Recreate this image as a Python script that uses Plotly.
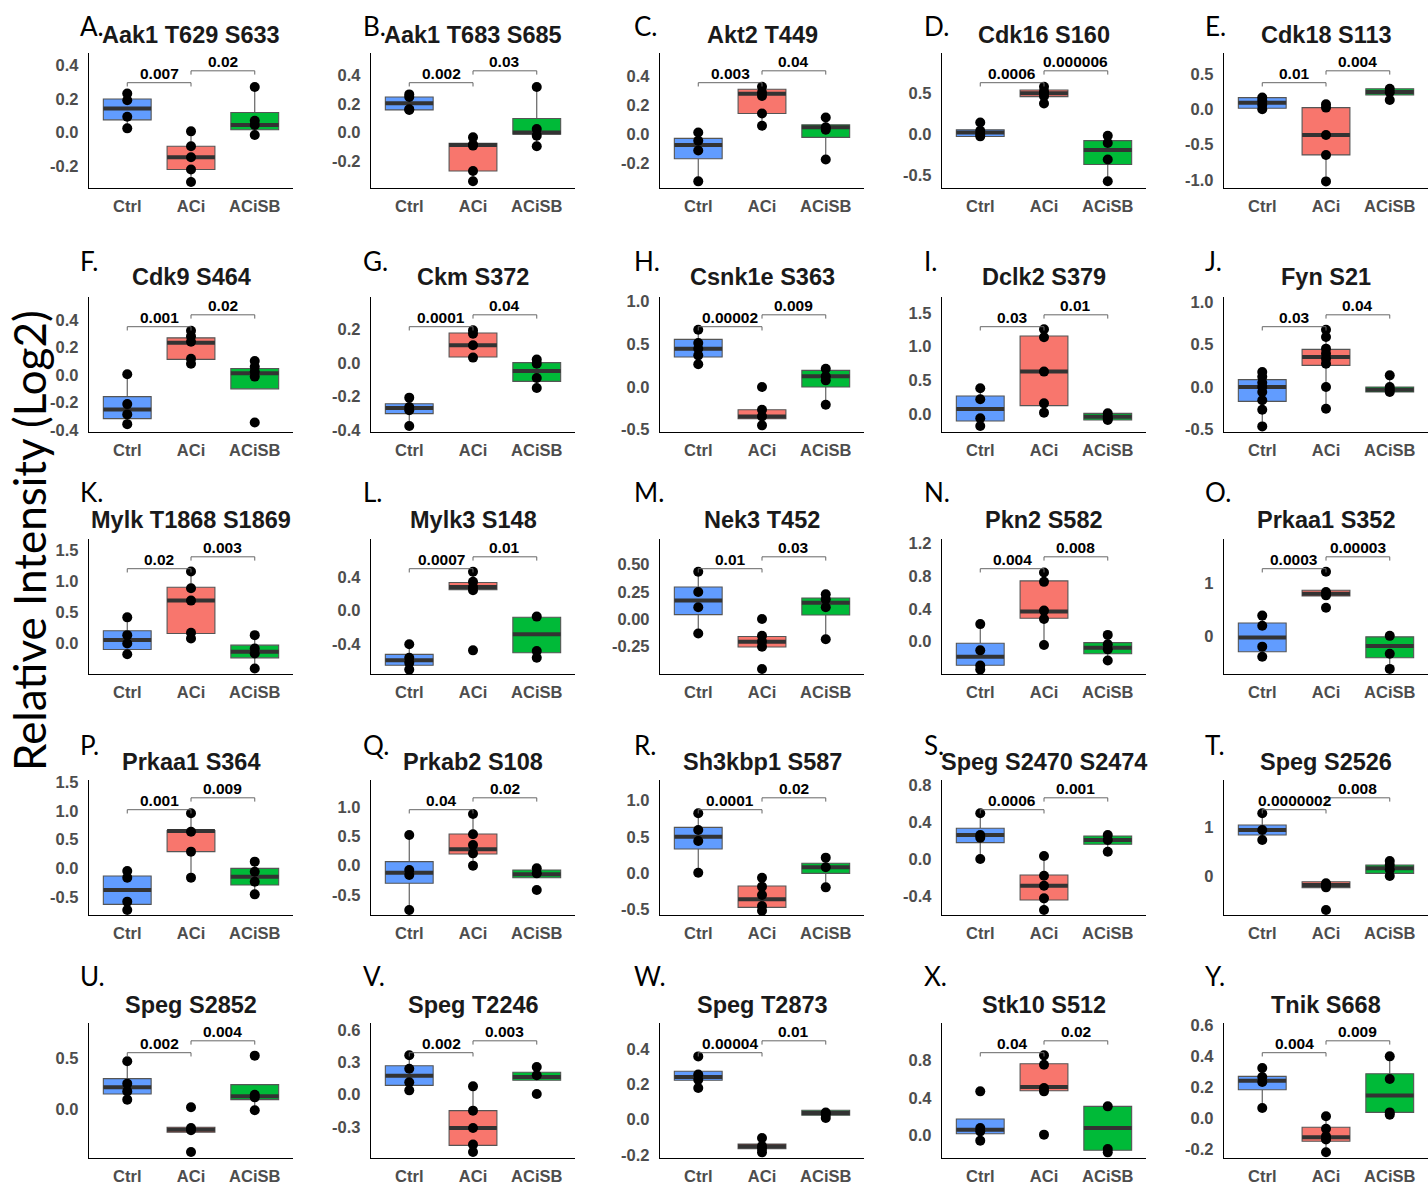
import plotly.graph_objects as go

# ---------------- data ----------------
TITLES = ["Aak1 T629 S633", "Aak1 T683 S685", "Akt2 T449", "Cdk16 S160", "Cdk18 S113",
          "Cdk9 S464", "Ckm S372", "Csnk1e S363", "Dclk2 S379", "Fyn S21",
          "Mylk T1868 S1869", "Mylk3 S148", "Nek3 T452", "Pkn2 S582", "Prkaa1 S352",
          "Prkaa1 S364", "Prkab2 S108", "Sh3kbp1 S587", "Speg S2470 S2474", "Speg S2526",
          "Speg S2852", "Speg T2246", "Speg T2873", "Stk10 S512", "Tnik S668"]
LETTERS = [c + "." for c in "ABCDEFGHIJKLMNOPQRSTUVWXY"]
GROUPS = ["Ctrl", "ACi", "ACiSB"]

P_CTRL_ACI = ["0.007", "0.002", "0.003", "0.0006", "0.01",
              "0.001", "0.0001", "0.00002", "0.03", "0.03",
              "0.02", "0.0007", "0.01", "0.004", "0.0003",
              "0.001", "0.04", "0.0001", "0.0006", "0.0000002",
              "0.002", "0.002", "0.00004", "0.04", "0.004"]
P_ACI_ACISB = ["0.02", "0.03", "0.04", "0.000006", "0.004",
               "0.02", "0.04", "0.009", "0.01", "0.04",
               "0.003", "0.01", "0.03", "0.008", "0.00003",
               "0.009", "0.02", "0.02", "0.001", "0.008",
               "0.004", "0.003", "0.01", "0.02", "0.009"]

YRANGE = [[-0.333, 0.475], [-0.391, 0.558], [-0.373, 0.56], [-0.655, 0.984], [-1.112, 0.794],
          [-0.415, 0.567], [-0.41, 0.392], [-0.527, 1.055], [-0.267, 1.736], [-0.531, 1.063],
          [-0.49, 1.677], [-0.752, 0.848], [-0.505, 0.734], [-0.396, 1.254], [-0.72, 1.828],
          [-0.811, 1.535], [-0.841, 1.46], [-0.573, 1.284], [-0.605, 0.854], [-0.782, 1.973],
          [-0.468, 0.839], [-0.586, 0.663], [-0.217, 0.547], [-0.238, 1.202], [-0.258, 0.612]]
YTICKS = [[-0.2, 0.0, 0.2, 0.4], [-0.2, 0.0, 0.2, 0.4], [-0.2, 0.0, 0.2, 0.4], [-0.5, 0.0, 0.5], [-1.0, -0.5, 0.0, 0.5],
          [-0.4, -0.2, 0.0, 0.2, 0.4], [-0.4, -0.2, 0.0, 0.2], [-0.5, 0.0, 0.5, 1.0], [0.0, 0.5, 1.0, 1.5], [-0.5, 0.0, 0.5, 1.0],
          [-0.5, 0.0, 0.5, 1.0, 1.5], [-0.4, 0.0, 0.4], [-0.25, 0.0, 0.25, 0.5], [-0.4, 0.0, 0.4, 0.8, 1.2], [0, 1],
          [-0.5, 0.0, 0.5, 1.0, 1.5], [-0.5, 0.0, 0.5, 1.0], [-0.5, 0.0, 0.5, 1.0], [-0.4, 0.0, 0.4, 0.8], [0, 1],
          [0.0, 0.5], [-0.3, 0.0, 0.3, 0.6], [-0.2, 0.0, 0.2, 0.4], [0.0, 0.4, 0.8], [-0.2, 0.0, 0.2, 0.4, 0.6]]
TICK_DEC = [1, 1, 1, 1, 1,
            1, 1, 1, 1, 1,
            1, 1, 2, 1, 0,
            1, 1, 1, 1, 0,
            1, 1, 1, 1, 1]

# individual points per group
PTS_CTRL = [[0.232, 0.192, 0.093, 0.024], [0.267, 0.249, 0.162, 0.158], [0.011, -0.046, -0.114, -0.327],
            [0.14, 0.04, 0.0, -0.028], [0.165, 0.12, 0.06, 0.0],
            [0.005, -0.212, -0.287, -0.358], [-0.206, -0.261, -0.281, -0.374], [0.672, 0.516, 0.449, 0.371, 0.266],
            [0.381, 0.218, -0.064, -0.178], [0.177, 0.12, 0.05, 0.0, -0.059, -0.157, -0.268, -0.465],
            [0.419, 0.134, 0.0, -0.172], [-0.4, -0.56, -0.62, -0.7], [0.434, 0.248, 0.108, -0.133],
            [0.214, -0.107, -0.293, -0.342], [0.382, 0.191, -0.204, -0.395],
            [-0.046, -0.162, -0.579, -0.724], [0.523, -0.074, -0.159, -0.756], [0.826, 0.596, 0.445, 0.009],
            [0.494, 0.259, 0.23, 0.0], [1.293, 0.952, 0.748],
            [0.468, 0.252, 0.177, 0.097], [0.364, 0.24, 0.114, 0.04], [0.358, 0.255, 0.226, 0.179],
            [0.473, 0.082, 0.046, -0.053], [0.322, 0.264, 0.232, 0.064]]
PTS_ACI = [[0.006, -0.083, -0.149, -0.222, -0.297], [-0.035, -0.086, -0.093, -0.272, -0.344],
           [0.327, 0.286, 0.263, 0.142, 0.057], [0.574, 0.52, 0.494, 0.46, 0.37], [0.07, 0.023, -0.364, -0.645, -1.019],
           [0.322, 0.282, 0.242, 0.118, 0.082], [0.194, 0.174, 0.105, 0.032], [0.0, -0.266, -0.344, -0.449],
           [1.257, 1.139, 0.629, 0.158, 0.02], [0.677, 0.591, 0.453, 0.394, 0.335, 0.276, 0.0, -0.256],
           [1.156, 0.887, 0.688, 0.172, 0.081], [0.46, 0.34, 0.28, 0.24, -0.472], [0.0, -0.155, -0.208, -0.254, -0.459],
           [0.845, 0.73, 0.379, 0.276, -0.041], [1.21, 0.828, 0.764, 0.529],
           [0.956, 0.637, 0.29, -0.162], [0.881, 0.534, 0.352, 0.21, 0.0], [-0.06, -0.183, -0.298, -0.45, -0.514],
           [0.032, -0.18, -0.288, -0.425, -0.551], [-0.136, -0.17, -0.218, -0.68],
           [0.023, -0.177, -0.2, -0.41], [0.077, -0.148, -0.308, -0.462, -0.53], [-0.104, -0.15, -0.165, -0.185],
           [0.857, 0.757, 0.508, 0.473, 0.011], [0.011, -0.069, -0.118, -0.139, -0.221]]
PTS_ACISB = [[0.271, 0.069, 0.044, -0.016], [0.319, 0.023, -0.023, -0.098], [0.114, 0.046, 0.03, -0.176],
             [-0.02, -0.108, -0.309, -0.574], [0.29, 0.24, 0.131],
             [0.101, 0.059, 0.024, -0.012, -0.346], [0.02, -0.004, -0.089, -0.149], [0.215, 0.125, 0.078, -0.207],
             [0.01, -0.04, -0.07, -0.089], [0.138, 0.0, -0.03, -0.059],
             [0.134, -0.081, -0.161, -0.403], [-0.072, -0.48, -0.56], [0.226, 0.18, 0.108, -0.186],
             [0.082, -0.033, -0.095, -0.231], [0.0, -0.338, -0.624],
             [0.116, -0.058, -0.232, -0.452], [-0.045, -0.131, -0.415], [0.216, 0.083, -0.193],
             [0.259, 0.205, 0.079], [0.32, 0.238, 0.14, 0.014],
             [0.523, 0.145, 0.119, -0.006], [0.256, 0.179, 0.006], [0.04, 0.028, 0.009],
             [0.313, -0.142, -0.178], [0.397, 0.251, 0.036, 0.021]]

# box statistics per group: [lower whisker, q1, median, q3, upper whisker]
BOX_CTRL = [[0.024, 0.075, 0.143, 0.2, 0.232], [0.158, 0.158, 0.205, 0.249, 0.267], [-0.327, -0.171, -0.075, -0.03, 0.011],
            [-0.03, -0.03, 0.02, 0.052, 0.14], [0.0, 0.014, 0.093, 0.164, 0.165],
            [-0.358, -0.318, -0.252, -0.158, 0.005], [-0.374, -0.301, -0.267, -0.242, -0.206], [0.266, 0.352, 0.449, 0.559, 0.672],
            [-0.178, -0.104, 0.074, 0.267, 0.381], [-0.465, -0.169, 0.0, 0.087, 0.177],
            [-0.172, -0.097, 0.054, 0.204, 0.419], [-0.7, -0.648, -0.588, -0.52, -0.4], [-0.133, 0.04, 0.17, 0.294, 0.434],
            [-0.342, -0.289, -0.186, -0.021, 0.214], [-0.395, -0.299, -0.032, 0.242, 0.382],
            [-0.724, -0.626, -0.377, -0.133, -0.046], [-0.756, -0.301, -0.119, 0.068, 0.523], [0.009, 0.335, 0.505, 0.633, 0.826],
            [0.0, 0.177, 0.259, 0.332, 0.494], [0.748, 0.85, 0.952, 1.054, 1.293],
            [0.097, 0.152, 0.216, 0.3, 0.468], [0.04, 0.086, 0.176, 0.268, 0.364], [0.179, 0.223, 0.242, 0.274, 0.274],
            [-0.053, 0.021, 0.064, 0.178, 0.178], [0.064, 0.182, 0.24, 0.268, 0.322]]
BOX_ACI = [[-0.297, -0.222, -0.149, -0.083, 0.006], [-0.344, -0.272, -0.088, -0.077, -0.035], [0.057, 0.142, 0.279, 0.309, 0.327],
           [0.37, 0.454, 0.494, 0.534, 0.574], [-1.019, -0.645, -0.364, 0.023, 0.07],
           [0.082, 0.113, 0.235, 0.27, 0.322], [0.032, 0.036, 0.105, 0.178, 0.194], [-0.449, -0.371, -0.344, -0.266, -0.266],
           [0.02, 0.124, 0.629, 1.158, 1.257], [-0.256, 0.256, 0.354, 0.445, 0.677],
           [0.081, 0.161, 0.688, 0.903, 1.156], [0.24, 0.248, 0.28, 0.332, 0.46], [-0.257, -0.257, -0.208, -0.161, -0.161],
           [-0.041, 0.285, 0.367, 0.742, 0.845], [0.752, 0.752, 0.796, 0.86, 0.86],
           [-0.162, 0.29, 0.649, 0.655, 0.956], [0.0, 0.199, 0.278, 0.54, 0.881], [-0.514, -0.468, -0.358, -0.174, -0.06],
           [-0.551, -0.443, -0.288, -0.173, 0.032], [-0.224, -0.224, -0.17, -0.102, -0.102],
           [-0.219, -0.219, -0.194, -0.171, -0.171], [-0.53, -0.469, -0.308, -0.148, 0.077], [-0.185, -0.164, -0.151, -0.138, -0.104],
           [0.473, 0.48, 0.519, 0.768, 0.857], [-0.221, -0.15, -0.124, -0.06, 0.011]]
BOX_ACISB = [[-0.016, 0.016, 0.044, 0.119, 0.271], [-0.098, -0.012, 0.0, 0.098, 0.319], [-0.176, -0.023, 0.046, 0.064, 0.114],
             [-0.574, -0.369, -0.193, -0.08, -0.02], [0.131, 0.2, 0.243, 0.29, 0.29],
             [-0.101, -0.101, 0.012, 0.047, 0.101], [-0.149, -0.109, -0.048, 0.002, 0.02], [-0.207, 0.0, 0.125, 0.195, 0.215],
             [-0.089, -0.089, -0.04, 0.01, 0.01], [-0.059, -0.059, -0.031, 0.0, 0.138],
             [-0.403, -0.231, -0.134, -0.027, 0.134], [-0.56, -0.5, -0.28, -0.08, -0.072], [-0.186, 0.037, 0.149, 0.192, 0.226],
             [-0.231, -0.148, -0.074, -0.012, 0.082], [-0.624, -0.414, -0.191, -0.019, 0.0],
             [-0.452, -0.29, -0.145, 0.0, 0.116], [-0.205, -0.205, -0.148, -0.074, -0.045], [-0.193, 0.0, 0.083, 0.138, 0.216],
             [0.079, 0.159, 0.205, 0.249, 0.259], [0.014, 0.068, 0.17, 0.238, 0.32],
             [-0.006, 0.097, 0.129, 0.242, 0.242], [0.133, 0.133, 0.163, 0.207, 0.256], [0.009, 0.025, 0.038, 0.053, 0.053],
             [-0.178, -0.156, 0.082, 0.313, 0.313], [0.021, 0.036, 0.144, 0.285, 0.397]]

# ---------------- layout constants (pixels in the page) ----------------
W, H = 1428, 1185
COL_LEFT = [89, 371, 660, 942, 1224]
PLOT_W = 204
ROW_TOP = [53, 297, 539, 780, 1023]
PLOT_H = 135
TITLE_Y = [35, 277, 520, 762, 1005]
LETTER_X = [78, 361, 632, 922, 1203]
LETTER_Y = [26, 261, 492, 745, 976]
FILLS = ["#619CFF", "#F8766D", "#00BA38"]
TICK_GRAY = "#4D4D4D"
BW = 0.75


def px_x(px):
    return px / W


def px_y(py):
    return 1 - py / H


fig = go.Figure()
shapes = []
annotations = []

pts_all = [PTS_CTRL, PTS_ACI, PTS_ACISB]
box_all = [BOX_CTRL, BOX_ACI, BOX_ACISB]

for i in range(25):
    r, c = divmod(i, 5)
    n = i + 1
    xr = "x" if n == 1 else f"x{n}"
    yr = "y" if n == 1 else f"y{n}"
    xk = "xaxis" if n == 1 else f"xaxis{n}"
    yk = "yaxis" if n == 1 else f"yaxis{n}"

    for g in range(3):
        lo, q1, med, q3, hi = box_all[g][i]
        xpos = g + 1
        fig.add_trace(go.Box(
            x=[xpos], q1=[q1], median=[med], q3=[q3], lowerfence=[lo], upperfence=[hi],
            width=BW, fillcolor=FILLS[g], line=dict(color="#555555", width=1.1),
            whiskerwidth=0, boxpoints=False, xaxis=xr, yaxis=yr, hoverinfo="skip",
            showlegend=False))
        fig.add_trace(go.Scatter(
            x=[xpos - BW / 2, xpos + BW / 2], y=[med, med], mode="lines",
            line=dict(color="#333333", width=4), xaxis=xr, yaxis=yr,
            hoverinfo="skip", showlegend=False))
        pts = pts_all[g][i]
        fig.add_trace(go.Scatter(
            x=[xpos] * len(pts), y=pts, mode="markers",
            marker=dict(color="black", size=10), xaxis=xr, yaxis=yr,
            hoverinfo="skip", showlegend=False))

    x0 = px_x(COL_LEFT[c])
    x1 = px_x(COL_LEFT[c] + PLOT_W)
    y1 = px_y(ROW_TOP[r])
    y0 = px_y(ROW_TOP[r] + PLOT_H)
    dec = TICK_DEC[i]
    fig.update_layout(**{
        xk: dict(domain=[x0, x1], range=[0.4, 3.6], anchor=yr, tickvals=[1, 2, 3],
                 ticktext=GROUPS, showline=True, linecolor="black", linewidth=1.4,
                 showgrid=False, zeroline=False, ticks="", ticklabelstandoff=3,
                 automargin=False,
                 tickfont=dict(family="Liberation Sans", size=16.5, color=TICK_GRAY,
                               weight="bold"), fixedrange=True),
        yk: dict(domain=[y0, y1], range=YRANGE[i], anchor=xr, tickvals=YTICKS[i],
                 ticktext=[f"{v:.{dec}f}" for v in YTICKS[i]], showline=True,
                 linecolor="black", linewidth=1.4, showgrid=False, zeroline=False,
                 ticks="", ticklabelstandoff=6, automargin=False,
                 tickfont=dict(family="Liberation Sans", size=16.5, color=TICK_GRAY,
                               weight="bold"), fixedrange=True),
    })

    # significance brackets
    for (xa, xb, yb, ptxt) in [(1, 2, 0.78, P_CTRL_ACI[i]), (2, 3, 0.868, P_ACI_ACISB[i])]:
        drop = 0.028
        ln = dict(color="#666666", width=1)
        shapes.append(dict(type="line", xref=xr, yref=f"{yr} domain", x0=xa, x1=xb,
                           y0=yb, y1=yb, line=ln))
        shapes.append(dict(type="line", xref=xr, yref=f"{yr} domain", x0=xa, x1=xa,
                           y0=yb, y1=yb - drop, line=ln))
        shapes.append(dict(type="line", xref=xr, yref=f"{yr} domain", x0=xb, x1=xb,
                           y0=yb, y1=yb - drop, line=ln))
        annotations.append(dict(text=ptxt, xref=xr, yref=f"{yr} domain",
                                x=(xa + xb) / 2, y=yb, yanchor="bottom", xanchor="center",
                                showarrow=False, yshift=-1,
                                font=dict(family="Liberation Sans", size=15.5, color="black",
                                          weight="bold")))

    # panel title
    annotations.append(dict(text=TITLES[i], xref="paper", yref="paper",
                            x=px_x(COL_LEFT[c] + PLOT_W / 2), y=px_y(TITLE_Y[r]),
                            xanchor="center", yanchor="middle", showarrow=False,
                            font=dict(family="Liberation Sans", size=23.5, color="#1a1a1a",
                                      weight="bold")))
    # letter
    annotations.append(dict(text=LETTERS[i], xref="paper", yref="paper",
                            x=px_x(LETTER_X[c]), y=px_y(LETTER_Y[r]),
                            xanchor="left", yanchor="middle", showarrow=False,
                            font=dict(family="Lato", size=26, color="black")))

annotations.append(dict(text="Relative Intensity (Log2)", xref="paper", yref="paper",
                        x=px_x(29), y=px_y(541), textangle=-90, xanchor="center",
                        yanchor="middle", showarrow=False,
                        font=dict(family="Lato", size=44, color="black")))

fig.update_layout(width=W, height=H, margin=dict(l=0, r=0, t=0, b=0, autoexpand=False),
                  paper_bgcolor="white", plot_bgcolor="white", showlegend=False,
                  shapes=shapes, annotations=annotations)

fig.write_html("out.html", config={"displayModeBar": False},
               post_script="document.body.style.margin='0';"
                           "document.body.style.overflow='hidden';")
